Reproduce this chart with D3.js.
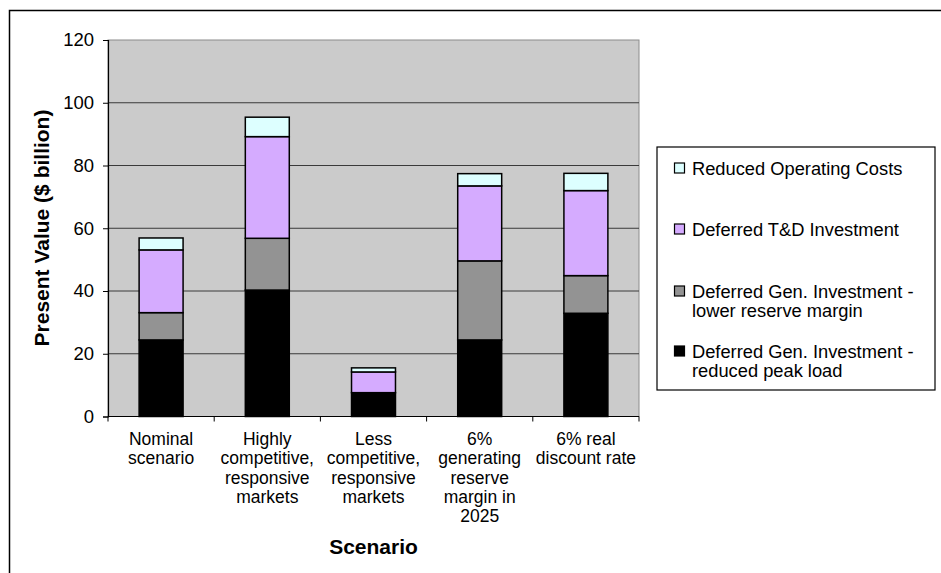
<!DOCTYPE html>
<html>
<head>
<meta charset="utf-8">
<script src="https://cdn.jsdelivr.net/npm/d3@7"></script>
<style>
  html, body { margin: 0; padding: 0; background: #fff; }
  svg { display: block; font-family: "Liberation Sans", Arial, sans-serif; }
</style>
</head>
<body>
<svg id="chart" width="941" height="573"></svg>
<script>
// Scenario categories (multi-line labels)
const scenarios = [
  ["Nominal", "scenario"],
  ["Highly", "competitive,", "responsive", "markets"],
  ["Less", "competitive,", "responsive", "markets"],
  ["6%", "generating", "reserve", "margin in", "2025"],
  ["6% real", "discount rate"]
];

// Stacked components, $ billion, bottom to top
const peakLoad    = [24.4, 40.3, 7.6, 24.4, 32.9];
const reserveMarg = [8.7, 16.5, 0.0, 25.2, 12.0];
const tdInvest    = [20.0, 32.4, 6.6, 23.9, 27.1];
const operCosts   = [3.8, 6.2, 1.3, 3.9, 5.5];

const seriesNames = [
  ["Deferred Gen. Investment -", "reduced peak load"],
  ["Deferred Gen. Investment -", "lower reserve margin"],
  ["Deferred T&D Investment"],
  ["Reduced Operating Costs"]
];
const seriesColors = ["#000000", "#939393", "#d5abff", "#ddffff"];
const yTicks = [0, 20, 40, 60, 80, 100, 120];

const svg = d3.select("#chart");
const plot = { left: 108, right: 639, top: 40, bottom: 416.5 };

// Outer chart frame
svg.append("path")
  .attr("d", "M9.5,573 L9.5,10.5 L941,10.5")
  .attr("fill", "none").attr("stroke", "#000").attr("stroke-width", 1.5);

const x = d3.scaleBand()
  .domain(d3.range(scenarios.length))
  .range([plot.left, plot.right])
  .paddingInner(0.586).paddingOuter(0.293);
const xOuter = d3.scaleBand()
  .domain(d3.range(scenarios.length))
  .range([plot.left, plot.right]);
const y = d3.scaleLinear().domain([0, 120]).range([plot.bottom, plot.top]);

// Plot area background
svg.append("rect")
  .attr("x", plot.left).attr("y", plot.top)
  .attr("width", plot.right - plot.left).attr("height", plot.bottom - plot.top)
  .attr("fill", "#cbcbcb").attr("stroke", "#8c8c8c").attr("stroke-width", 1);

// Gridlines
svg.append("g").selectAll("line")
  .data(yTicks.filter(t => t > 0 && t < 120))
  .join("line")
  .attr("x1", plot.left).attr("x2", plot.right)
  .attr("y1", d => y(d)).attr("y2", d => y(d))
  .attr("stroke", "#3a3a3a").attr("stroke-width", 1);

// Stack the series
const rows = scenarios.map((s, i) => ({
  i, s0: peakLoad[i], s1: reserveMarg[i], s2: tdInvest[i], s3: operCosts[i]
}));
const stack = d3.stack().keys(["s0", "s1", "s2", "s3"])(rows);

svg.append("g").selectAll("g")
  .data(stack)
  .join("g")
  .attr("fill", (d, k) => seriesColors[k])
  .selectAll("rect")
  .data(d => d.filter(p => p[1] - p[0] > 0))
  .join("rect")
  .attr("x", p => x(p.data.i))
  .attr("width", x.bandwidth())
  .attr("y", p => y(p[1]))
  .attr("height", p => y(p[0]) - y(p[1]))
  .attr("stroke", "#000").attr("stroke-width", 1.5);

// Y axis
const yAxis = d3.axisLeft(y).tickValues(yTicks).tickSize(5).tickPadding(9);
const gy = svg.append("g").attr("transform", `translate(${plot.left},0)`).call(yAxis);
gy.select(".domain").attr("stroke", "#000").attr("stroke-width", 1.2);
gy.selectAll(".tick line").attr("stroke", "#000");
gy.selectAll(".tick text")
  .attr("font-size", 18.5).attr("fill", "#000")
  .attr("font-family", "Liberation Sans, Arial, sans-serif");

// X axis line and category separator ticks
svg.append("line")
  .attr("x1", plot.left).attr("x2", plot.right)
  .attr("y1", plot.bottom).attr("y2", plot.bottom)
  .attr("stroke", "#000").attr("stroke-width", 1.2);
svg.append("g").selectAll("line")
  .data(d3.range(scenarios.length + 1))
  .join("line")
  .attr("x1", k => k < scenarios.length ? xOuter(k) : plot.right)
  .attr("x2", k => k < scenarios.length ? xOuter(k) : plot.right)
  .attr("y1", plot.bottom).attr("y2", plot.bottom + 5)
  .attr("stroke", "#000").attr("stroke-width", 1);

// Category labels
const xl = svg.append("g").selectAll("text")
  .data(scenarios)
  .join("text")
  .attr("text-anchor", "middle")
  .attr("font-size", 17.5)
  .attr("fill", "#000");
xl.each(function(lines, i) {
  const cx = xOuter(i) + xOuter.bandwidth() / 2;
  d3.select(this).selectAll("tspan")
    .data(lines)
    .join("tspan")
    .attr("x", cx)
    .attr("y", (l, j) => 445 + j * 19.3)
    .text(l => l);
});

// Axis titles
svg.append("text")
  .attr("x", (plot.left + plot.right) / 2).attr("y", 553.5)
  .attr("text-anchor", "middle")
  .attr("font-size", 21).attr("font-weight", "bold")
  .text("Scenario");
svg.append("text")
  .attr("transform", "translate(49,228) rotate(-90)")
  .attr("text-anchor", "middle")
  .attr("font-size", 21).attr("font-weight", "bold")
  .text("Present Value ($ billion)");

// Legend (top entry is the top of the stack)
const legend = svg.append("g");
legend.append("rect")
  .attr("x", 657).attr("y", 147).attr("width", 278).attr("height", 243)
  .attr("fill", "#fff").attr("stroke", "#000").attr("stroke-width", 1.2);
const order = [3, 2, 1, 0];
const entryY = [168, 229, 291, 351];
order.forEach((k, n) => {
  const cy = entryY[n];
  legend.append("rect")
    .attr("x", 674.5).attr("y", cy - 5).attr("width", 10).attr("height", 10)
    .attr("fill", seriesColors[k]).attr("stroke", "#000").attr("stroke-width", 1.2);
  const t = legend.append("text").attr("font-size", 18.3).attr("fill", "#000");
  seriesNames[k].forEach((line, j) => {
    t.append("tspan").attr("x", 692).attr("y", cy + 6.5 + j * 19).text(line);
  });
});
</script>
</body>
</html>
